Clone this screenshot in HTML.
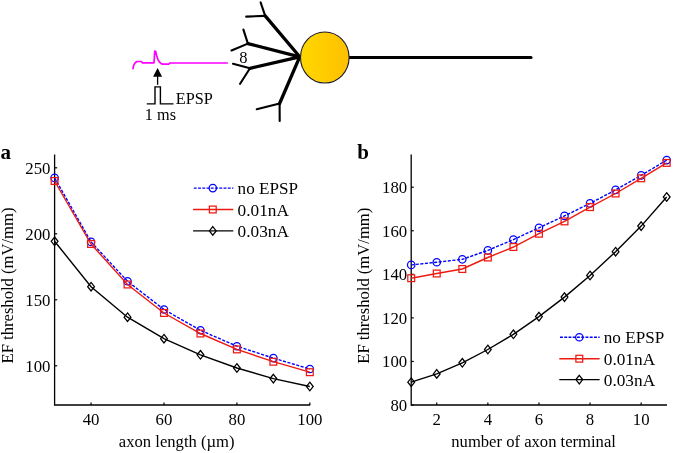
<!DOCTYPE html>
<html><head><meta charset="utf-8"><style>
html,body{margin:0;padding:0;background:#fff;}
svg{display:block;}
text{font-family:"Liberation Serif", serif;fill:#000;}
</style></head><body>
<svg width="675" height="453" viewBox="0 0 675 453">
<rect width="675" height="453" fill="#fff"/>
<defs><linearGradient id="g" x1="0" x2="1" y1="0" y2="0"><stop offset="0" stop-color="#ffd700"/><stop offset="0.5" stop-color="#ffcc00"/><stop offset="1" stop-color="#ffbf00"/></linearGradient></defs>
<line x1="299.70" y1="56.80" x2="265.20" y2="15.90" stroke="#000" stroke-width="3.3" stroke-linecap="round"/>
<line x1="265.20" y1="15.90" x2="246.20" y2="16.60" stroke="#000" stroke-width="2.1" stroke-linecap="round"/>
<line x1="265.20" y1="15.90" x2="260.60" y2="2.40" stroke="#000" stroke-width="2.1" stroke-linecap="round"/>
<line x1="299.70" y1="56.80" x2="247.90" y2="43.60" stroke="#000" stroke-width="3.3" stroke-linecap="round"/>
<line x1="247.90" y1="43.60" x2="231.50" y2="50.50" stroke="#000" stroke-width="2.1" stroke-linecap="round"/>
<line x1="247.90" y1="43.60" x2="243.40" y2="29.60" stroke="#000" stroke-width="2.1" stroke-linecap="round"/>
<line x1="299.70" y1="56.80" x2="250.00" y2="68.30" stroke="#000" stroke-width="3.3" stroke-linecap="round"/>
<line x1="250.00" y1="68.30" x2="233.00" y2="63.70" stroke="#000" stroke-width="2.1" stroke-linecap="round"/>
<line x1="250.00" y1="68.30" x2="240.10" y2="83.80" stroke="#000" stroke-width="2.1" stroke-linecap="round"/>
<line x1="299.70" y1="56.80" x2="279.60" y2="103.50" stroke="#000" stroke-width="3.3" stroke-linecap="round"/>
<line x1="279.60" y1="103.50" x2="256.70" y2="109.20" stroke="#000" stroke-width="2.1" stroke-linecap="round"/>
<line x1="279.60" y1="103.50" x2="279.70" y2="120.90" stroke="#000" stroke-width="2.1" stroke-linecap="round"/>
<line x1="349" y1="57.5" x2="531" y2="57.5" stroke="#000" stroke-width="3.1" stroke-linecap="round"/>
<ellipse cx="324.8" cy="57.5" rx="24.3" ry="25.5" fill="url(#g)" stroke="#1a1a2a" stroke-width="1.1"/>
<polyline points="133.00,68.70 133.40,66.50 134.00,64.60 135.00,63.00 136.20,61.90 137.50,61.50 141.30,61.50 142.30,62.80 154.00,62.90 154.80,51.00 155.60,51.20 156.70,55.80 158.00,59.80 159.60,62.20 161.20,63.60 162.70,64.10 168.70,64.10 170.00,63.00 227.20,63.00" fill="none" stroke="#ff00ff" stroke-width="1.7" stroke-linejoin="round" stroke-linecap="round"/>
<line x1="157.6" y1="75" x2="157.6" y2="84.8" stroke="#000" stroke-width="1.3"/>
<path d="M157.6 68 L162.1 76.8 L153.1 76.8 Z" fill="#000"/>
<polyline points="146.8,103.9 155,103.9 155,86.9 160.4,86.9 160.4,103.9 173.5,103.9" fill="none" stroke="#000" stroke-width="1.4"/>
<path d="M54.6 154.6 V405 H310.2" fill="none" stroke="#000" stroke-width="1.3"/>
<line x1="91.06" y1="405" x2="91.06" y2="402.4" stroke="#000" stroke-width="1.2"/>
<line x1="163.98" y1="405" x2="163.98" y2="402.4" stroke="#000" stroke-width="1.2"/>
<line x1="236.90" y1="405" x2="236.90" y2="402.4" stroke="#000" stroke-width="1.2"/>
<line x1="309.82" y1="405" x2="309.82" y2="402.4" stroke="#000" stroke-width="1.2"/>
<line x1="54.6" y1="365.80" x2="57.2" y2="365.80" stroke="#000" stroke-width="1.2"/>
<line x1="54.6" y1="299.80" x2="57.2" y2="299.80" stroke="#000" stroke-width="1.2"/>
<line x1="54.6" y1="233.80" x2="57.2" y2="233.80" stroke="#000" stroke-width="1.2"/>
<line x1="54.6" y1="167.80" x2="57.2" y2="167.80" stroke="#000" stroke-width="1.2"/>
<polyline points="54.60,177.90 91.06,241.90 127.52,281.30 163.98,309.50 200.44,330.30 236.90,346.20 273.36,358.10 309.82,369.00" fill="none" stroke="#0000ff" stroke-width="1.40" stroke-dasharray="3.1,1.5" stroke-linejoin="miter"/>
<circle cx="54.60" cy="177.90" r="3.70" fill="none" stroke="#0000ff" stroke-width="1.25"/>
<circle cx="91.06" cy="241.90" r="3.70" fill="none" stroke="#0000ff" stroke-width="1.25"/>
<circle cx="127.52" cy="281.30" r="3.70" fill="none" stroke="#0000ff" stroke-width="1.25"/>
<circle cx="163.98" cy="309.50" r="3.70" fill="none" stroke="#0000ff" stroke-width="1.25"/>
<circle cx="200.44" cy="330.30" r="3.70" fill="none" stroke="#0000ff" stroke-width="1.25"/>
<circle cx="236.90" cy="346.20" r="3.70" fill="none" stroke="#0000ff" stroke-width="1.25"/>
<circle cx="273.36" cy="358.10" r="3.70" fill="none" stroke="#0000ff" stroke-width="1.25"/>
<circle cx="309.82" cy="369.00" r="3.70" fill="none" stroke="#0000ff" stroke-width="1.25"/>
<polyline points="54.60,181.00 91.06,244.00 127.52,284.50 163.98,313.00 200.44,333.50 236.90,349.40 273.36,361.70 309.82,372.20" fill="none" stroke="#ee1a10" stroke-width="1.40" stroke-linejoin="miter"/>
<rect x="51.20" y="177.60" width="6.80" height="6.80" fill="none" stroke="#ee1a10" stroke-width="1.25"/>
<rect x="87.66" y="240.60" width="6.80" height="6.80" fill="none" stroke="#ee1a10" stroke-width="1.25"/>
<rect x="124.12" y="281.10" width="6.80" height="6.80" fill="none" stroke="#ee1a10" stroke-width="1.25"/>
<rect x="160.58" y="309.60" width="6.80" height="6.80" fill="none" stroke="#ee1a10" stroke-width="1.25"/>
<rect x="197.04" y="330.10" width="6.80" height="6.80" fill="none" stroke="#ee1a10" stroke-width="1.25"/>
<rect x="233.50" y="346.00" width="6.80" height="6.80" fill="none" stroke="#ee1a10" stroke-width="1.25"/>
<rect x="269.96" y="358.30" width="6.80" height="6.80" fill="none" stroke="#ee1a10" stroke-width="1.25"/>
<rect x="306.42" y="368.80" width="6.80" height="6.80" fill="none" stroke="#ee1a10" stroke-width="1.25"/>
<polyline points="54.60,241.30 91.06,286.70 127.52,317.20 163.98,338.70 200.44,354.80 236.90,368.00 273.36,378.60 309.82,386.50" fill="none" stroke="#000" stroke-width="1.40" stroke-linejoin="miter"/>
<path d="M54.60 237.00L58.00 241.30L54.60 245.60L51.20 241.30Z" fill="none" stroke="#000" stroke-width="1.25"/>
<path d="M91.06 282.40L94.46 286.70L91.06 291.00L87.66 286.70Z" fill="none" stroke="#000" stroke-width="1.25"/>
<path d="M127.52 312.90L130.92 317.20L127.52 321.50L124.12 317.20Z" fill="none" stroke="#000" stroke-width="1.25"/>
<path d="M163.98 334.40L167.38 338.70L163.98 343.00L160.58 338.70Z" fill="none" stroke="#000" stroke-width="1.25"/>
<path d="M200.44 350.50L203.84 354.80L200.44 359.10L197.04 354.80Z" fill="none" stroke="#000" stroke-width="1.25"/>
<path d="M236.90 363.70L240.30 368.00L236.90 372.30L233.50 368.00Z" fill="none" stroke="#000" stroke-width="1.25"/>
<path d="M273.36 374.30L276.76 378.60L273.36 382.90L269.96 378.60Z" fill="none" stroke="#000" stroke-width="1.25"/>
<path d="M309.82 382.20L313.22 386.50L309.82 390.80L306.42 386.50Z" fill="none" stroke="#000" stroke-width="1.25"/>
<line x1="193.80" y1="188.10" x2="233.30" y2="188.10" stroke="#0000ff" stroke-width="1.40" stroke-dasharray="2.9,1.35"/>
<circle cx="212.80" cy="188.10" r="3.70" fill="none" stroke="#0000ff" stroke-width="1.25"/>
<line x1="193.10" y1="209.50" x2="233.30" y2="209.50" stroke="#ee1a10" stroke-width="1.40"/>
<rect x="209.40" y="206.10" width="6.80" height="6.80" fill="none" stroke="#ee1a10" stroke-width="1.25"/>
<line x1="193.10" y1="230.90" x2="233.30" y2="230.90" stroke="#000" stroke-width="1.40"/>
<path d="M212.80 226.60L216.20 230.90L212.80 235.20L209.40 230.90Z" fill="none" stroke="#000" stroke-width="1.25"/>
<path d="M411.2 154.6 V405 H667" fill="none" stroke="#000" stroke-width="1.3"/>
<line x1="436.75" y1="405" x2="436.75" y2="402.4" stroke="#000" stroke-width="1.2"/>
<line x1="487.85" y1="405" x2="487.85" y2="402.4" stroke="#000" stroke-width="1.2"/>
<line x1="538.95" y1="405" x2="538.95" y2="402.4" stroke="#000" stroke-width="1.2"/>
<line x1="590.05" y1="405" x2="590.05" y2="402.4" stroke="#000" stroke-width="1.2"/>
<line x1="641.15" y1="405" x2="641.15" y2="402.4" stroke="#000" stroke-width="1.2"/>
<line x1="411.2" y1="405.00" x2="413.8" y2="405.00" stroke="#000" stroke-width="1.2"/>
<line x1="411.2" y1="361.44" x2="413.8" y2="361.44" stroke="#000" stroke-width="1.2"/>
<line x1="411.2" y1="317.88" x2="413.8" y2="317.88" stroke="#000" stroke-width="1.2"/>
<line x1="411.2" y1="274.32" x2="413.8" y2="274.32" stroke="#000" stroke-width="1.2"/>
<line x1="411.2" y1="230.76" x2="413.8" y2="230.76" stroke="#000" stroke-width="1.2"/>
<line x1="411.2" y1="187.20" x2="413.8" y2="187.20" stroke="#000" stroke-width="1.2"/>
<polyline points="411.20,264.90 436.75,262.20 462.30,259.30 487.85,250.40 513.40,239.60 538.95,227.80 564.50,215.90 590.05,203.40 615.60,189.90 641.15,175.40 666.70,160.10" fill="none" stroke="#0000ff" stroke-width="1.40" stroke-dasharray="3.1,1.5" stroke-linejoin="miter"/>
<circle cx="411.20" cy="264.90" r="3.70" fill="none" stroke="#0000ff" stroke-width="1.25"/>
<circle cx="436.75" cy="262.20" r="3.70" fill="none" stroke="#0000ff" stroke-width="1.25"/>
<circle cx="462.30" cy="259.30" r="3.70" fill="none" stroke="#0000ff" stroke-width="1.25"/>
<circle cx="487.85" cy="250.40" r="3.70" fill="none" stroke="#0000ff" stroke-width="1.25"/>
<circle cx="513.40" cy="239.60" r="3.70" fill="none" stroke="#0000ff" stroke-width="1.25"/>
<circle cx="538.95" cy="227.80" r="3.70" fill="none" stroke="#0000ff" stroke-width="1.25"/>
<circle cx="564.50" cy="215.90" r="3.70" fill="none" stroke="#0000ff" stroke-width="1.25"/>
<circle cx="590.05" cy="203.40" r="3.70" fill="none" stroke="#0000ff" stroke-width="1.25"/>
<circle cx="615.60" cy="189.90" r="3.70" fill="none" stroke="#0000ff" stroke-width="1.25"/>
<circle cx="641.15" cy="175.40" r="3.70" fill="none" stroke="#0000ff" stroke-width="1.25"/>
<circle cx="666.70" cy="160.10" r="3.70" fill="none" stroke="#0000ff" stroke-width="1.25"/>
<polyline points="411.20,278.20 436.75,273.50 462.30,269.00 487.85,257.50 513.40,247.00 538.95,233.70 564.50,221.40 590.05,207.10 615.60,193.50 641.15,178.30 666.70,162.90" fill="none" stroke="#ee1a10" stroke-width="1.40" stroke-linejoin="miter"/>
<rect x="407.80" y="274.80" width="6.80" height="6.80" fill="none" stroke="#ee1a10" stroke-width="1.25"/>
<rect x="433.35" y="270.10" width="6.80" height="6.80" fill="none" stroke="#ee1a10" stroke-width="1.25"/>
<rect x="458.90" y="265.60" width="6.80" height="6.80" fill="none" stroke="#ee1a10" stroke-width="1.25"/>
<rect x="484.45" y="254.10" width="6.80" height="6.80" fill="none" stroke="#ee1a10" stroke-width="1.25"/>
<rect x="510.00" y="243.60" width="6.80" height="6.80" fill="none" stroke="#ee1a10" stroke-width="1.25"/>
<rect x="535.55" y="230.30" width="6.80" height="6.80" fill="none" stroke="#ee1a10" stroke-width="1.25"/>
<rect x="561.10" y="218.00" width="6.80" height="6.80" fill="none" stroke="#ee1a10" stroke-width="1.25"/>
<rect x="586.65" y="203.70" width="6.80" height="6.80" fill="none" stroke="#ee1a10" stroke-width="1.25"/>
<rect x="612.20" y="190.10" width="6.80" height="6.80" fill="none" stroke="#ee1a10" stroke-width="1.25"/>
<rect x="637.75" y="174.90" width="6.80" height="6.80" fill="none" stroke="#ee1a10" stroke-width="1.25"/>
<rect x="663.30" y="159.50" width="6.80" height="6.80" fill="none" stroke="#ee1a10" stroke-width="1.25"/>
<polyline points="411.20,382.20 436.75,373.90 462.30,362.80 487.85,349.50 513.40,334.30 538.95,316.60 564.50,297.10 590.05,275.50 615.60,251.70 641.15,226.10 666.70,197.00" fill="none" stroke="#000" stroke-width="1.40" stroke-linejoin="miter"/>
<path d="M411.20 377.90L414.60 382.20L411.20 386.50L407.80 382.20Z" fill="none" stroke="#000" stroke-width="1.25"/>
<path d="M436.75 369.60L440.15 373.90L436.75 378.20L433.35 373.90Z" fill="none" stroke="#000" stroke-width="1.25"/>
<path d="M462.30 358.50L465.70 362.80L462.30 367.10L458.90 362.80Z" fill="none" stroke="#000" stroke-width="1.25"/>
<path d="M487.85 345.20L491.25 349.50L487.85 353.80L484.45 349.50Z" fill="none" stroke="#000" stroke-width="1.25"/>
<path d="M513.40 330.00L516.80 334.30L513.40 338.60L510.00 334.30Z" fill="none" stroke="#000" stroke-width="1.25"/>
<path d="M538.95 312.30L542.35 316.60L538.95 320.90L535.55 316.60Z" fill="none" stroke="#000" stroke-width="1.25"/>
<path d="M564.50 292.80L567.90 297.10L564.50 301.40L561.10 297.10Z" fill="none" stroke="#000" stroke-width="1.25"/>
<path d="M590.05 271.20L593.45 275.50L590.05 279.80L586.65 275.50Z" fill="none" stroke="#000" stroke-width="1.25"/>
<path d="M615.60 247.40L619.00 251.70L615.60 256.00L612.20 251.70Z" fill="none" stroke="#000" stroke-width="1.25"/>
<path d="M641.15 221.80L644.55 226.10L641.15 230.40L637.75 226.10Z" fill="none" stroke="#000" stroke-width="1.25"/>
<path d="M666.70 192.70L670.10 197.00L666.70 201.30L663.30 197.00Z" fill="none" stroke="#000" stroke-width="1.25"/>
<line x1="560.00" y1="337.30" x2="599.60" y2="337.30" stroke="#0000ff" stroke-width="1.40" stroke-dasharray="2.9,1.35"/>
<circle cx="579.30" cy="337.30" r="3.70" fill="none" stroke="#0000ff" stroke-width="1.25"/>
<line x1="559.30" y1="358.70" x2="599.60" y2="358.70" stroke="#ee1a10" stroke-width="1.40"/>
<rect x="575.90" y="355.30" width="6.80" height="6.80" fill="none" stroke="#ee1a10" stroke-width="1.25"/>
<line x1="559.30" y1="379.60" x2="599.60" y2="379.60" stroke="#000" stroke-width="1.40"/>
<path d="M579.30 375.30L582.70 379.60L579.30 383.90L575.90 379.60Z" fill="none" stroke="#000" stroke-width="1.25"/>
<g opacity="0.999">
<text transform="translate(175.70,104.10) scale(1.017,1)" font-size="16.00" text-anchor="start" font-weight="normal">EPSP</text>
<text transform="translate(144.80,119.50) scale(1.017,1)" font-size="16.00" text-anchor="start" font-weight="normal">1 ms</text>
<text transform="translate(243.30,62.50) scale(1.000,1)" font-size="16.50" text-anchor="middle" font-weight="normal">8</text>
<text transform="translate(0.40,158.70) scale(1.000,1)" font-size="21.00" text-anchor="start" font-weight="bold">a</text>
<text transform="translate(91.06,425.00) scale(1.018,1)" font-size="16.50" text-anchor="middle" font-weight="normal">40</text>
<text transform="translate(163.98,425.00) scale(1.018,1)" font-size="16.50" text-anchor="middle" font-weight="normal">60</text>
<text transform="translate(236.90,425.00) scale(1.018,1)" font-size="16.50" text-anchor="middle" font-weight="normal">80</text>
<text transform="translate(309.82,425.00) scale(1.018,1)" font-size="16.50" text-anchor="middle" font-weight="normal">100</text>
<text transform="translate(50.50,371.60) scale(1.018,1)" font-size="16.50" text-anchor="end" font-weight="normal">100</text>
<text transform="translate(50.50,305.60) scale(1.018,1)" font-size="16.50" text-anchor="end" font-weight="normal">150</text>
<text transform="translate(50.50,239.60) scale(1.018,1)" font-size="16.50" text-anchor="end" font-weight="normal">200</text>
<text transform="translate(50.50,173.60) scale(1.018,1)" font-size="16.50" text-anchor="end" font-weight="normal">250</text>
<text transform="translate(176.70,446.60) scale(1.008,1)" font-size="16.50" text-anchor="middle" font-weight="normal">axon length (&#181;m)</text>
<text transform="translate(12.70,285.50) rotate(-90) scale(1.008,1)" font-size="16.50" text-anchor="middle" font-weight="normal">EF threshold (mV/mm)</text>
<text transform="translate(237.60,194.20) scale(1.038,1)" font-size="16.50" text-anchor="start" font-weight="normal">no EPSP</text>
<text transform="translate(237.60,215.90) scale(1.047,1)" font-size="16.50" text-anchor="start" font-weight="normal">0.01nA</text>
<text transform="translate(237.60,237.20) scale(1.047,1)" font-size="16.50" text-anchor="start" font-weight="normal">0.03nA</text>
<text transform="translate(357.20,158.60) scale(1.000,1)" font-size="21.00" text-anchor="start" font-weight="bold">b</text>
<text transform="translate(436.75,424.50) scale(1.018,1)" font-size="16.50" text-anchor="middle" font-weight="normal">2</text>
<text transform="translate(487.85,424.50) scale(1.018,1)" font-size="16.50" text-anchor="middle" font-weight="normal">4</text>
<text transform="translate(538.95,424.50) scale(1.018,1)" font-size="16.50" text-anchor="middle" font-weight="normal">6</text>
<text transform="translate(590.05,424.50) scale(1.018,1)" font-size="16.50" text-anchor="middle" font-weight="normal">8</text>
<text transform="translate(641.15,424.50) scale(1.018,1)" font-size="16.50" text-anchor="middle" font-weight="normal">10</text>
<text transform="translate(407.20,410.80) scale(1.018,1)" font-size="16.50" text-anchor="end" font-weight="normal">80</text>
<text transform="translate(407.20,367.24) scale(1.018,1)" font-size="16.50" text-anchor="end" font-weight="normal">100</text>
<text transform="translate(407.20,323.68) scale(1.018,1)" font-size="16.50" text-anchor="end" font-weight="normal">120</text>
<text transform="translate(407.20,280.12) scale(1.018,1)" font-size="16.50" text-anchor="end" font-weight="normal">140</text>
<text transform="translate(407.20,236.56) scale(1.018,1)" font-size="16.50" text-anchor="end" font-weight="normal">160</text>
<text transform="translate(407.20,193.00) scale(1.018,1)" font-size="16.50" text-anchor="end" font-weight="normal">180</text>
<text transform="translate(533.60,447.00) scale(1.007,1)" font-size="16.50" text-anchor="middle" font-weight="normal">number of axon terminal</text>
<text transform="translate(369.40,285.70) rotate(-90) scale(1.008,1)" font-size="16.50" text-anchor="middle" font-weight="normal">EF threshold (mV/mm)</text>
<text transform="translate(603.80,343.40) scale(1.038,1)" font-size="16.50" text-anchor="start" font-weight="normal">no EPSP</text>
<text transform="translate(603.80,365.10) scale(1.047,1)" font-size="16.50" text-anchor="start" font-weight="normal">0.01nA</text>
<text transform="translate(603.80,385.90) scale(1.047,1)" font-size="16.50" text-anchor="start" font-weight="normal">0.03nA</text>
</g>
</svg>
</body></html>
